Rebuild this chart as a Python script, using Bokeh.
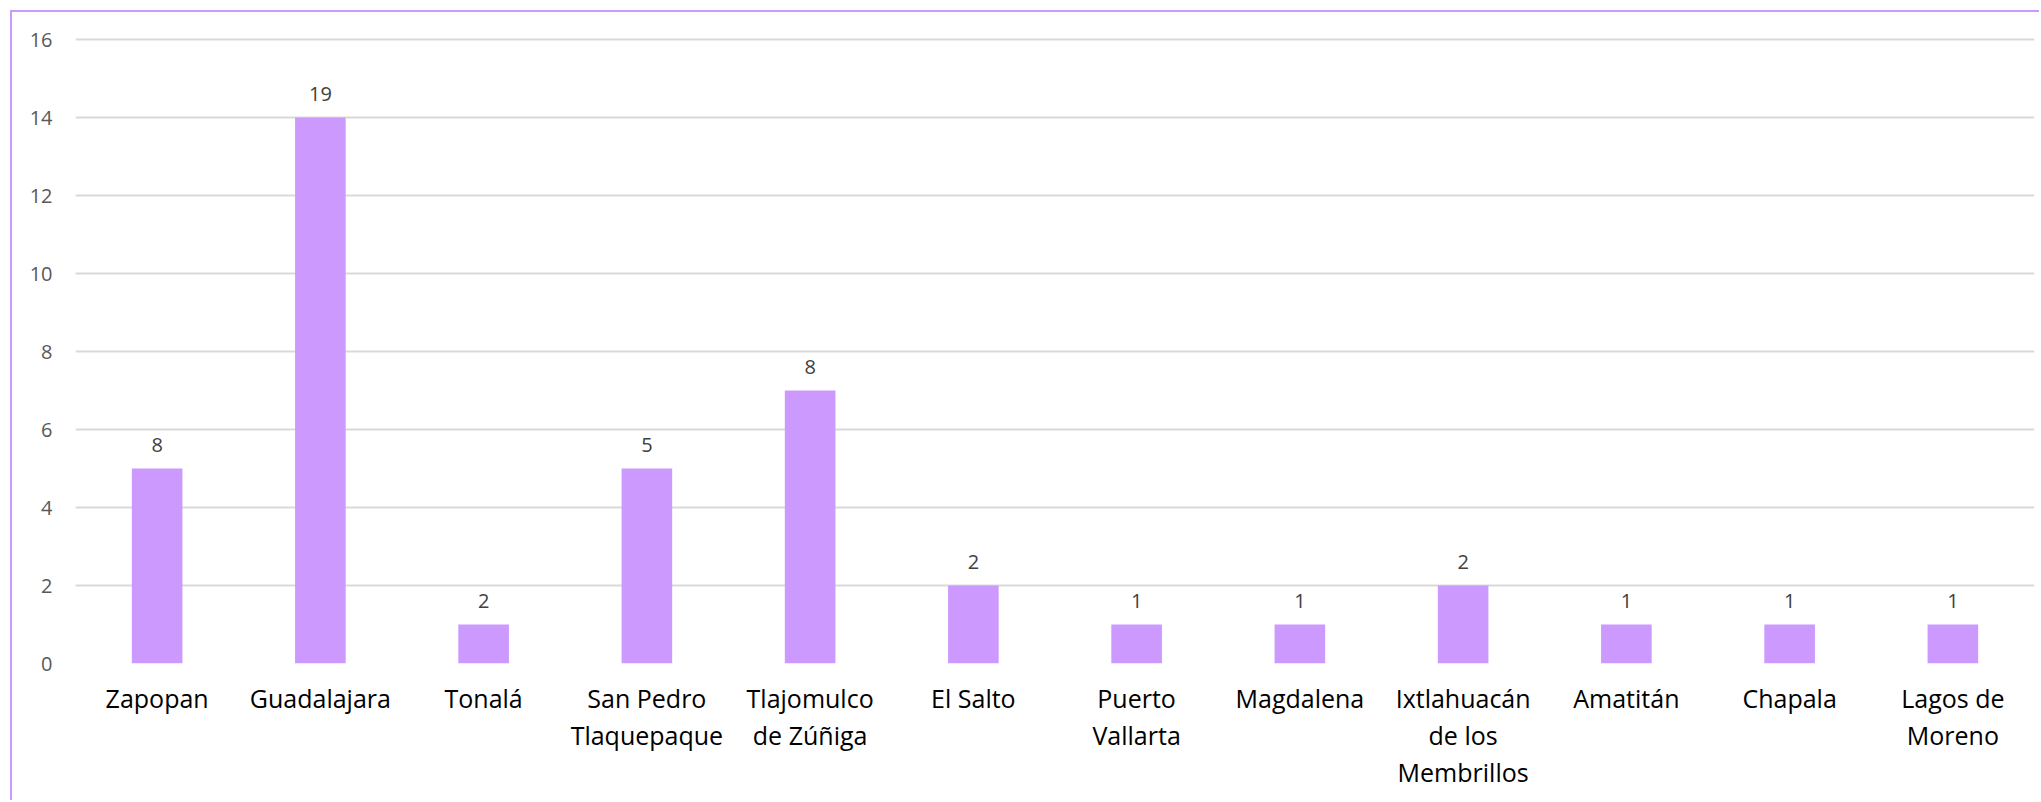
from bokeh.plotting import figure
from bokeh.models import FactorRange, Range1d, ColumnDataSource, FixedTicker, CategoricalAxis
from bokeh.core.properties import value
from bokeh.embed import file_html
from bokeh.resources import INLINE

# ---- data ----
municipios = ["Zapopan", "Guadalajara", "Tonalá", "San Pedro Tlaquepaque",
              "Tlajomulco de Zúñiga", "El Salto", "Puerto Vallarta", "Magdalena",
              "Ixtlahuacán de los Membrillos", "Amatitán", "Chapala", "Lagos de Moreno"]
etiquetas_eje = ["Zapopan", "Guadalajara", "Tonalá", "San Pedro\nTlaquepaque",
                 "Tlajomulco\nde Zúñiga", "El Salto", "Puerto\nVallarta", "Magdalena",
                 "Ixtlahuacán\nde los\nMembrillos", "Amatitán", "Chapala", "Lagos de\nMoreno"]
alturas = [5, 14, 1, 5, 7, 2, 1, 1, 2, 1, 1, 1]
etiquetas_datos = ["8", "19", "2", "5", "8", "2", "1", "1", "2", "1", "1", "1"]
y_ticks = [0, 2, 4, 6, 8, 10, 12, 14, 16]

FONT = "Open Sans"
BAR = "#CC99FF"

src = ColumnDataSource(dict(x=municipios, top=alturas, lab=etiquetas_datos))

p = figure(x_range=FactorRange(*municipios, range_padding=0),
           y_range=Range1d(0, 16.49),
           width=2029, height=790, output_backend="svg", toolbar_location=None,
           min_border_left=63, min_border_right=7, min_border_top=8, min_border_bottom=139)
p.styles = {"border-top": "2px solid #CC99FF", "border-left": "2px solid #CC99FF",
            "margin": "10px 0 0 10px"}
p.outline_line_color = None
p.background_fill_color = "white"

p.vbar(x="x", top="top", width=0.31, source=src, color=BAR, line_color=None)
p.text(x="x", y="top", text="lab", source=src, y_offset=-24,
       text_align="center", text_baseline="middle",
       text_font=value(FONT), text_font_size="20px", text_color="#404040")

p.xgrid.grid_line_color = None
p.ygrid.grid_line_color = "#D9D9D9"
p.ygrid.grid_line_width = 2
p.yaxis.ticker = FixedTicker(ticks=y_ticks)


def style_axis(ax):
    ax.axis_line_color = None
    ax.major_tick_line_color = None
    ax.minor_tick_line_color = None
    ax.major_tick_out = 0
    ax.major_tick_in = 0
    ax.minor_tick_out = 0
    ax.minor_tick_in = 0
    ax.major_label_text_font = FONT


style_axis(p.yaxis[0])
p.yaxis.major_label_text_font_size = "20px"
p.yaxis.major_label_text_color = "#595959"
p.yaxis.major_label_standoff = 23

p.xaxis[0].visible = False

# multi-line category labels: one stacked axis (own factor range) per text line
lines = [e.split("\n") for e in etiquetas_eje]
n_lines = max(len(l) for l in lines)
for k in range(n_lines):
    factors = []
    for j, l in enumerate(lines):
        factors.append(l[k] if k < len(l) else " " * (j + 1))
    name = "linea%d" % k
    p.extra_x_ranges[name] = FactorRange(*factors, range_padding=0)
    ax = CategoricalAxis(x_range_name=name)
    style_axis(ax)
    ax.major_label_text_font_size = "25px"
    ax.major_label_text_color = "#000000"
    ax.major_label_standoff = 17 if k == 0 else 0
    p.add_layout(ax, "below")

open("out.html", "w").write(file_html(p, INLINE))
